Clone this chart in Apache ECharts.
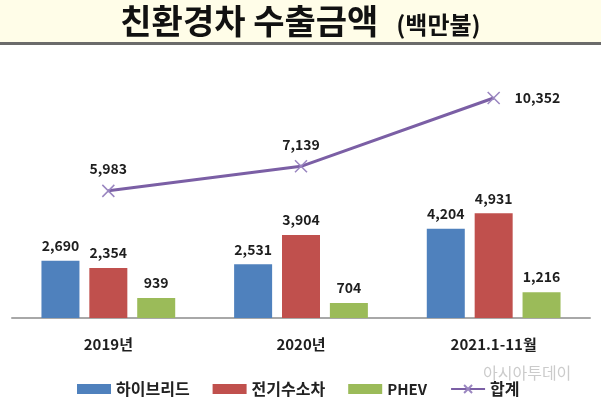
<!DOCTYPE html>
<html>
<head>
<meta charset="utf-8">
<script src="https://cdn.jsdelivr.net/npm/echarts@6/dist/echarts.min.js"></script>
<style>
  html, body { margin: 0; padding: 0; background: #fff; }
  #chart { width: 601px; height: 403px; }
</style>
</head>
<body>
<div id="chart"></div>
<script>
var categories = ['2019년', '2020년', '2021.1-11월'];
var hybrid = [2690, 2531, 4204];
var electric = [2354, 3904, 4931];
var phev = [939, 704, 1216];
var total = [5983, 7139, 10352];

var font = '"Noto Sans CJK KR", sans-serif';
var myChart = echarts.init(document.getElementById('chart'));

function fmt(p) {
    return p.value.toLocaleString('en-US');
}
var barLabel = {
    show: true, position: 'top', distance: 8, formatter: fmt,
    color: '#1e1e1e', fontFamily: font, fontWeight: 'bold', fontSize: 14
};

// last point of the total line has its label on the right
var totalData = total.map(function (v, i) {
    if (i === total.length - 1) {
        return { value: v, label: { position: 'right', distance: 14 } };
    }
    return v;
});

var option = {
    backgroundColor: '#fff',
    title: {
        text: '{a|친환경차 수출금액}{b|(백만불)}',
        left: 'center', top: -1,
        textStyle: {
            rich: {
                a: { fontFamily: font, fontWeight: 'bold', fontSize: 34, color: '#111' },
                b: { fontFamily: font, fontWeight: 'bold', fontSize: 24, color: '#111', padding: [7, 0, 0, 18] }
            }
        }
    },
    graphic: [
        { type: 'rect', z: -1, shape: { x: 0, y: 0, width: 601, height: 43 }, style: { fill: '#fffde8' } },
        { type: 'rect', z: -1, shape: { x: 0, y: 42, width: 601, height: 3 }, style: { fill: '#6b6b6b' } },
        {
            type: 'text', left: 483, top: 365, z: 100,
            style: { text: '아시아투데이', fill: 'rgba(190,190,190,0.8)', font: '16px ' + font }
        }
    ],
    legend: {
        left: 72, top: 376,
        itemWidth: 34, itemHeight: 10, itemGap: 23,
        textStyle: { fontFamily: font, fontWeight: 'bold', fontSize: 16, color: '#222' },
        data: [
            { name: '하이브리드', icon: 'rect' },
            { name: '전기수소차', icon: 'rect' },
            { name: 'PHEV', icon: 'rect', textStyle: { fontSize: 15 } },
            { name: '합계' }
        ]
    },
    grid: { left: 12, right: 11, top: 63, bottom: 85 },
    xAxis: {
        type: 'category', data: categories,
        axisTick: { show: false },
        axisLine: { lineStyle: { color: '#a8a8a8', width: 2 } },
        axisLabel: { margin: 19, fontFamily: font, fontWeight: 'bold', fontSize: 15, color: '#1e1e1e' }
    },
    yAxis: { type: 'value', min: 0, max: 12000, show: false, splitLine: { show: false } },
    series: [
        { name: '하이브리드', type: 'bar', data: hybrid, barWidth: 38, barGap: '26%', itemStyle: { color: '#4f81bd' }, label: barLabel },
        { name: '전기수소차', type: 'bar', data: electric, barWidth: 38, itemStyle: { color: '#c0504d' }, label: barLabel },
        { name: 'PHEV', type: 'bar', data: phev, barWidth: 38, itemStyle: { color: '#9bbb59' }, label: barLabel },
        {
            name: '합계', type: 'line', data: totalData,
            symbol: 'path://M0,0L10,10M10,0L0,10', symbolSize: 12,
            itemStyle: { color: '#8064a2', borderColor: '#9a86c0', borderWidth: 1.5 },
            lineStyle: { color: '#7b5fa5', width: 3 },
            label: {
                show: true, position: 'top', distance: 8, formatter: fmt,
                color: '#1e1e1e', fontFamily: font, fontWeight: 'bold', fontSize: 14
            }
        }
    ]
};
myChart.setOption(option);
</script>
</body>
</html>
